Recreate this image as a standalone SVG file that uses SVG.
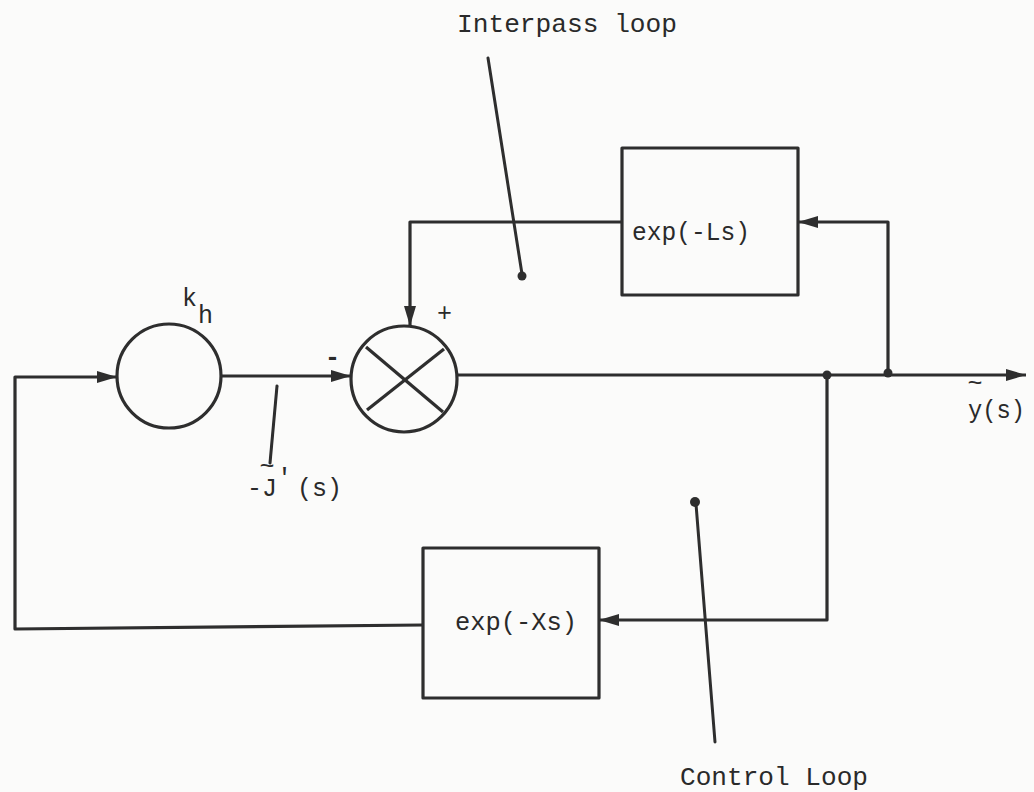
<svg xmlns="http://www.w3.org/2000/svg" width="1034" height="792" viewBox="0 0 1034 792">
<style>
.ln{fill:none;stroke:#2e2e2e;stroke-width:3.2;stroke-linejoin:round}
.ptr{fill:none;stroke:#2e2e2e;stroke-width:3;stroke-linecap:round}
.dot{fill:#2e2e2e}
.t{font-family:"Liberation Mono","DejaVu Sans Mono",monospace;fill:#2a2a2a;font-size:25px}
</style>
<defs>
<marker id="ah" markerUnits="userSpaceOnUse" markerWidth="22" markerHeight="14" refX="20" refY="7" orient="auto">
<path d="M0,1 L20,7 L0,13 Z" fill="#2e2e2e"/>
</marker>
</defs>
<rect width="1034" height="792" fill="#fbfbfa"/>

<g id="kh">
<circle cx="169" cy="376" r="52" class="ln"/>
<text class="t" x="182" y="306">k</text>
<text class="t" x="198" y="323">h</text>
</g>

<g id="sum">
<circle cx="404" cy="379" r="53" class="ln"/>
<line x1="366" y1="347" x2="443" y2="412" class="ln"/>
<line x1="367" y1="410" x2="444" y2="349" class="ln"/>
<text class="t" x="325" y="365" font-weight="bold">-</text>
<text class="t" x="437" y="321" font-size="22">+</text>
</g>

<g id="delayL">
<rect x="622" y="148" width="176" height="147" class="ln"/>
<text class="t" x="632" y="240" textLength="118" lengthAdjust="spacingAndGlyphs">exp(-Ls)</text>
</g>

<g id="delayX">
<rect x="423" y="548" width="176" height="150" class="ln"/>
<text class="t" x="455" y="630" textLength="122" lengthAdjust="spacingAndGlyphs">exp(-Xs)</text>
</g>

<g id="connectors">
<polyline points="423,625 15,629 15,377 117,377" class="ln" marker-end="url(#ah)"/>
<line x1="221" y1="376" x2="351" y2="376" class="ln" marker-end="url(#ah)"/>
<line x1="457" y1="375" x2="1026" y2="375" class="ln" marker-end="url(#ah)"/>
<polyline points="888,375 888,222 798,222" class="ln" marker-end="url(#ah)"/>
<polyline points="622,222 410,222 410,326" class="ln" marker-end="url(#ah)"/>
<polyline points="827,375 827,620 599,620" class="ln" marker-end="url(#ah)"/>
<circle cx="827" cy="375" r="4.5" class="dot"/>
<circle cx="888" cy="373" r="4.5" class="dot"/>
</g>

<g id="labels">
<text class="t" x="457" y="32" font-size="26" textLength="220" lengthAdjust="spacingAndGlyphs">Interpass loop</text>
<line x1="488" y1="58" x2="522" y2="274" class="ptr"/>
<circle cx="522" cy="276" r="4.5" class="dot"/>

<text class="t" x="680" y="785" font-size="26" textLength="188" lengthAdjust="spacingAndGlyphs">Control Loop</text>
<line x1="715" y1="742" x2="696" y2="504" class="ptr"/>
<circle cx="695" cy="502" r="5" class="dot"/>

<line x1="277" y1="386" x2="270" y2="463" class="ptr"/>
<text class="t" x="247" y="496">-J</text>
<text class="t" x="267" y="474" font-size="14" text-anchor="middle">~</text>
<text class="t" x="277" y="486" font-size="18">'</text>
<text class="t" x="297" y="496">(s)</text>

<text class="t" x="968" y="418" textLength="57" lengthAdjust="spacingAndGlyphs">y(s)</text>
<text class="t" x="975" y="391" font-size="14" text-anchor="middle">~</text>
</g>
</svg>
